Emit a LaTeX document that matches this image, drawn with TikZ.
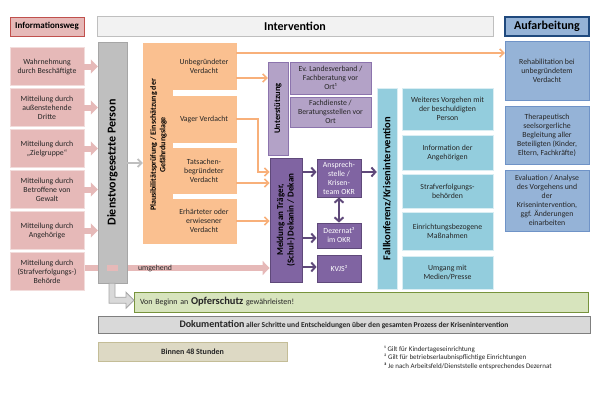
\documentclass[tikz,border=0pt]{standalone}
\usepackage{fontspec}
\setmainfont{Carlito}
\usetikzlibrary{arrows.meta,calc}

\definecolor{rosa}{HTML}{E6B9B8}
\definecolor{rosarand}{HTML}{F2DCDB}
\definecolor{rosadunkel}{HTML}{C0504D}
\definecolor{grauhell}{HTML}{F2F2F2}
\definecolor{graurand}{HTML}{BFBFBF}
\definecolor{grau}{HTML}{BFBFBF}
\definecolor{graudunkel}{HTML}{A6A6A6}
\definecolor{orfill}{HTML}{FAC090}
\definecolor{orlinie}{HTML}{F8B07A}
\definecolor{lilahell}{HTML}{B3A2C7}
\definecolor{lilarand}{HTML}{8C74AD}
\definecolor{lila}{HTML}{8064A2}
\definecolor{liladunkel}{HTML}{5F497A}
\definecolor{tuerkis}{HTML}{93CDDD}
\definecolor{tuerkisrand}{HTML}{DAEEF3}
\definecolor{blau}{HTML}{95B3D7}
\definecolor{blaurand}{HTML}{6F93C7}
\definecolor{blaudunkel}{HTML}{1F497D}
\definecolor{gruen}{HTML}{D7E4BD}
\definecolor{gruenrand}{HTML}{77933C}
\definecolor{dokgrau}{HTML}{D9D9D9}
\definecolor{dokrand}{HTML}{7F7F7F}
\definecolor{beige}{HTML}{DDD9C4}
\definecolor{beigerand}{HTML}{C4BD97}
\definecolor{schrift}{HTML}{262626}

\pgfdeclarelayer{hinten}
\pgfsetlayers{hinten,main}

\begin{document}
\begin{tikzpicture}[x=1pt,y=-1pt,
    txt/.style={font=\fontsize{7.8}{9}\selectfont, align=center, inner sep=1pt, text=schrift},
    kopf/.style={font=\bfseries\fontsize{12}{14}\selectfont, inner sep=1pt},
    vtext/.style={rotate=90, align=center, inner sep=0pt, font=\bfseries\fontsize{8}{9.5}\selectfont},
    infobox/.style={txt, fill=rosa, draw=rosarand, minimum width=74pt, minimum height=38pt},
    orbox/.style={txt, fill=orfill, draw=orfill, minimum width=64.5pt},
    unterbox/.style={txt, fill=lilahell, draw=lilarand, minimum width=81pt},
    lilabox/.style={txt, text=white, fill=lila, draw=liladunkel, line width=0.8pt, minimum width=44pt},
    fallbox/.style={txt, fill=tuerkis, draw=tuerkisrand, minimum width=91pt},
    aufbox/.style={txt, fill=blau, draw=blaurand, minimum width=84pt},
    fussnote/.style={txt, anchor=west, align=left, font=\fontsize{7}{8}\selectfont},
    rosapfeil/.style={draw=rosa, line width=6pt, -{Triangle[length=7pt,width=14pt]}},
    orpfeil/.style={draw=orlinie, line width=1.6pt, -{Straight Barb[length=4pt,width=8pt]}},
    graupfeil/.style={draw=grau, line width=1.8pt, -{Straight Barb[length=4pt,width=8pt]}},
    lilapfeil/.style={draw=liladunkel, line width=2pt, -{Straight Barb[length=4pt,width=9pt]}}
]
\useasboundingbox (0,0) rectangle (600,415);

% Kopfzeile
\node[kopf, font=\bfseries\fontsize{9}{11}\selectfont, fill=rosa, draw=rosadunkel, line width=1pt,
      minimum width=74pt, minimum height=19pt] (infoweg) at (47,26.5) {Informationsweg};
\node[kopf, fill=grauhell, draw=graurand, minimum width=396pt, minimum height=20pt] (interv) at (295,26) {Intervention};
\node[kopf, fill=blau, draw=blaudunkel, line width=1.2pt, minimum width=84pt, minimum height=19pt] (aufarb) at (547,26.5) {Aufarbeitung};

% Informationsweg
\foreach \i/\y/\t in {1/66.5/{Wahrnehmung\\durch Beschäftigte},
                      2/107.5/{Mitteilung durch\\außenstehende\\Dritte},
                      3/148.5/{Mitteilung durch\\„Zielgruppe“},
                      4/189.5/{Mitteilung durch\\Betroffene von\\Gewalt},
                      5/230.5/{Mitteilung durch\\Angehörige},
                      6/271.5/{Mitteilung durch\\(Strafverfolgungs-)\\Behörde}}
    \node[infobox] (info\i) at (47,\y) {\t};

% Dienstvorgesetzte Person
\node[fill=grau, draw=graudunkel, minimum width=29pt, minimum height=241pt] (dvp) at (112.5,162.5) {};
\node[vtext, font=\bfseries\fontsize{12}{14}\selectfont] (dvptext) at (dvp) {Dienstvorgesetzte Person};

% Plausibilitaetspruefung
\node[fill=orfill, draw=orfill, minimum width=29pt, minimum height=200pt] (plaus) at (157.5,143) {};
\node[vtext] (plaustext) at (158.5,145) {Plausibilitätsprüfung / Einschätzung der\\Gefährdungslage};
\node[orbox, minimum height=46pt] (o1) at (204,66) {Unbegründeter\\Verdacht};
\node[orbox, minimum height=46pt] (o2) at (204,119) {Vager Verdacht};
\node[orbox, minimum height=45pt] (o3) at (204,170.5) {Tatsachen-\\begründeter\\Verdacht};
\node[orbox, minimum height=44pt] (o4) at (204,221) {Erhärteter oder\\erwiesener\\Verdacht};

% Unterstuetzung
\node[fill=lilahell, draw=lilarand, minimum width=20pt, minimum height=93pt] (unterst) at (278,108.5) {};
\node[vtext, font=\bfseries\fontsize{8.5}{10}\selectfont] (untertext) at (unterst) {Unterstützung};
\node[unterbox, minimum height=32pt] (ev) at (330.5,78) {Ev. Landesverband /\\Fachberatung vor\\Ort¹};
\node[unterbox, minimum height=30pt] (fach) at (330.5,112) {Fachdienste /\\Beratungsstellen vor\\Ort};

% Meldung
\node[fill=lila, draw=liladunkel, line width=0.8pt, minimum width=32pt, minimum height=124pt] (meldung) at (286,220) {};
\node[vtext, font=\bfseries\fontsize{9}{10.5}\selectfont, text=black] (meldtext) at (meldung) {Meldung an Träger,\\(Schul-) Dekanin / Dekan};
\node[lilabox, minimum height=38pt] (ansp) at (339,178) {Ansprech-\\stelle /\\Krisen-\\team OKR};
\node[lilabox, minimum height=25pt] (dez) at (339,235.5) {Dezernat³\\im OKR};
\node[lilabox, minimum height=27pt] (kvjs) at (339,268.5) {KVJS²};

% Fallkonferenz
\node[fill=tuerkis, draw=tuerkisrand, minimum width=20pt, minimum height=201pt] (fall) at (387,188.5) {};
\node[vtext, font=\bfseries\fontsize{10.5}{12}\selectfont] (falltext) at (fall) {Fallkonferenz/Krisenintervention};
\node[fallbox, minimum height=42pt] (f1) at (447.5,109) {Weiteres Vorgehen mit\\der beschuldigten\\Person};
\node[fallbox, minimum height=35pt] (f2) at (447.5,152.5) {Information der\\Angehörigen};
\node[fallbox, minimum height=34pt] (f3) at (447.5,191) {Strafverfolgungs-\\behörden};
\node[fallbox, minimum height=38pt] (f4) at (447.5,231) {Einrichtungsbezogene\\Maßnahmen};
\node[fallbox, minimum height=33pt] (f5) at (447.5,272.5) {Umgang mit\\Medien/Presse};

% Aufarbeitung
\node[aufbox, minimum height=59pt] (rehab) at (547,70.5) {Rehabilitation bei\\unbegründetem\\Verdacht};
\node[aufbox, minimum height=58pt] (thera) at (547,135) {Therapeutisch\\seelsorgerliche\\Begleitung aller\\Beteiligten (Kinder,\\Eltern, Fachkräfte)};
\node[aufbox, minimum height=61pt] (eval) at (547,200.5) {Evaluation / Analyse\\des Vorgehens und\\der\\Krisenintervention,\\ggf. Änderungen\\einarbeiten};

% Unten
\node[txt, fill=gruen, draw=gruenrand, line width=1pt, minimum height=20pt, text width=442pt,
      inner xsep=6pt, align=left, font=\fontsize{8}{10}\selectfont] (opfer) at (361,302)
      {Von Beginn an\ {\bfseries\fontsize{10.5}{12}\selectfont Opferschutz}\ gewährleisten!};
\node[txt, fill=dokgrau, draw=dokrand, line width=1pt, minimum width=492pt, minimum height=17pt,
      font=\bfseries\fontsize{7.5}{9}\selectfont] (doku) at (344,324.5)
      {{\fontsize{10}{12}\selectfont Dokumentation} aller Schritte und Entscheidungen über den gesamten Prozess der Krisenintervention};
\node[txt, fill=beige, draw=beigerand, line width=1pt, minimum width=189pt, minimum height=19pt,
      font=\bfseries\fontsize{8}{10}\selectfont] (binnen) at (192.5,351.5) {Binnen 48 Stunden};
\node[fussnote] (fn1) at (383,349) {¹ Gilt für Kindertageseinrichtung};
\node[fussnote] (fn2) at (383,357.5) {² Gilt für betriebserlaubnispflichtige Einrichtungen};
\node[fussnote] (fn3) at (383,366) {\textbf{³} Je nach Arbeitsfeld/Dienststelle entsprechendes Dezernat};

% Pfeile Informationsweg
\foreach \i in {1,...,5}
    \draw[rosapfeil] (info\i.east) -- (info\i.east -| dvp.west);
\coordinate (umg) at ([yshift=3.5pt]info6.east);
\begin{pgfonlayer}{hinten}
    \draw[rosapfeil] (umg) -- (umg -| meldung.west);
\end{pgfonlayer}
\fill[rosa] ($(umg -| dvp.center)+(-5.5,-3)$) rectangle +(11,6);
\node[txt] (umgtext) at (155,268) {umgehend};

% Pfeile Intervention
\draw[graupfeil] (dvp.east |- 0,163) -- (plaus.west |- 0,163);
\draw[fill=dokgrau, draw=graudunkel, line width=0.8pt] ([xshift=-3.5pt]dvp.south) -- ++(6,0) -- ++(0,14)
    -- ++(11,0) -- ++(0,-5) -- ++(8,8) -- ++(-8,8) -- ++(0,-5) -- ++(-17,0) -- cycle;
\draw[orpfeil] ([yshift=13pt]o1.east) -- ([yshift=13pt]o1.east -| rehab.west);
\draw[orpfeil] ([yshift=-12pt]o1.east) -- ([yshift=-12pt]o1.east -| unterst.west);
\coordinate (knick) at (258,119);
\draw[orpfeil] (o2.east) -- (knick) |- ([yshift=48pt]meldung.west);
\draw[orpfeil] ([yshift=-12.5pt]o3.east) -- ([yshift=-12.5pt]o3.east -| meldung.west);
\draw[orpfeil] (o4.east) -- (o4.east -| meldung.west);
\draw[lilapfeil] ([yshift=48pt]meldung.east) -- ([yshift=48pt]meldung.east -| ansp.west);
\draw[lilapfeil] ([yshift=-18pt]meldung.east) -- ([yshift=-18pt]meldung.east -| dez.west);
\draw[lilapfeil] ([yshift=-47pt]meldung.east) -- ([yshift=-47pt]meldung.east -| kvjs.west);
\draw[lilapfeil, {Straight Barb[length=4pt,width=9pt]}-{Straight Barb[length=4pt,width=9pt]}] (ansp.south) -- (dez.north);
\draw[lilapfeil] ([yshift=6pt]ansp.east) -- ([yshift=6pt]ansp.east -| fall.west);
\end{tikzpicture}
\end{document}
